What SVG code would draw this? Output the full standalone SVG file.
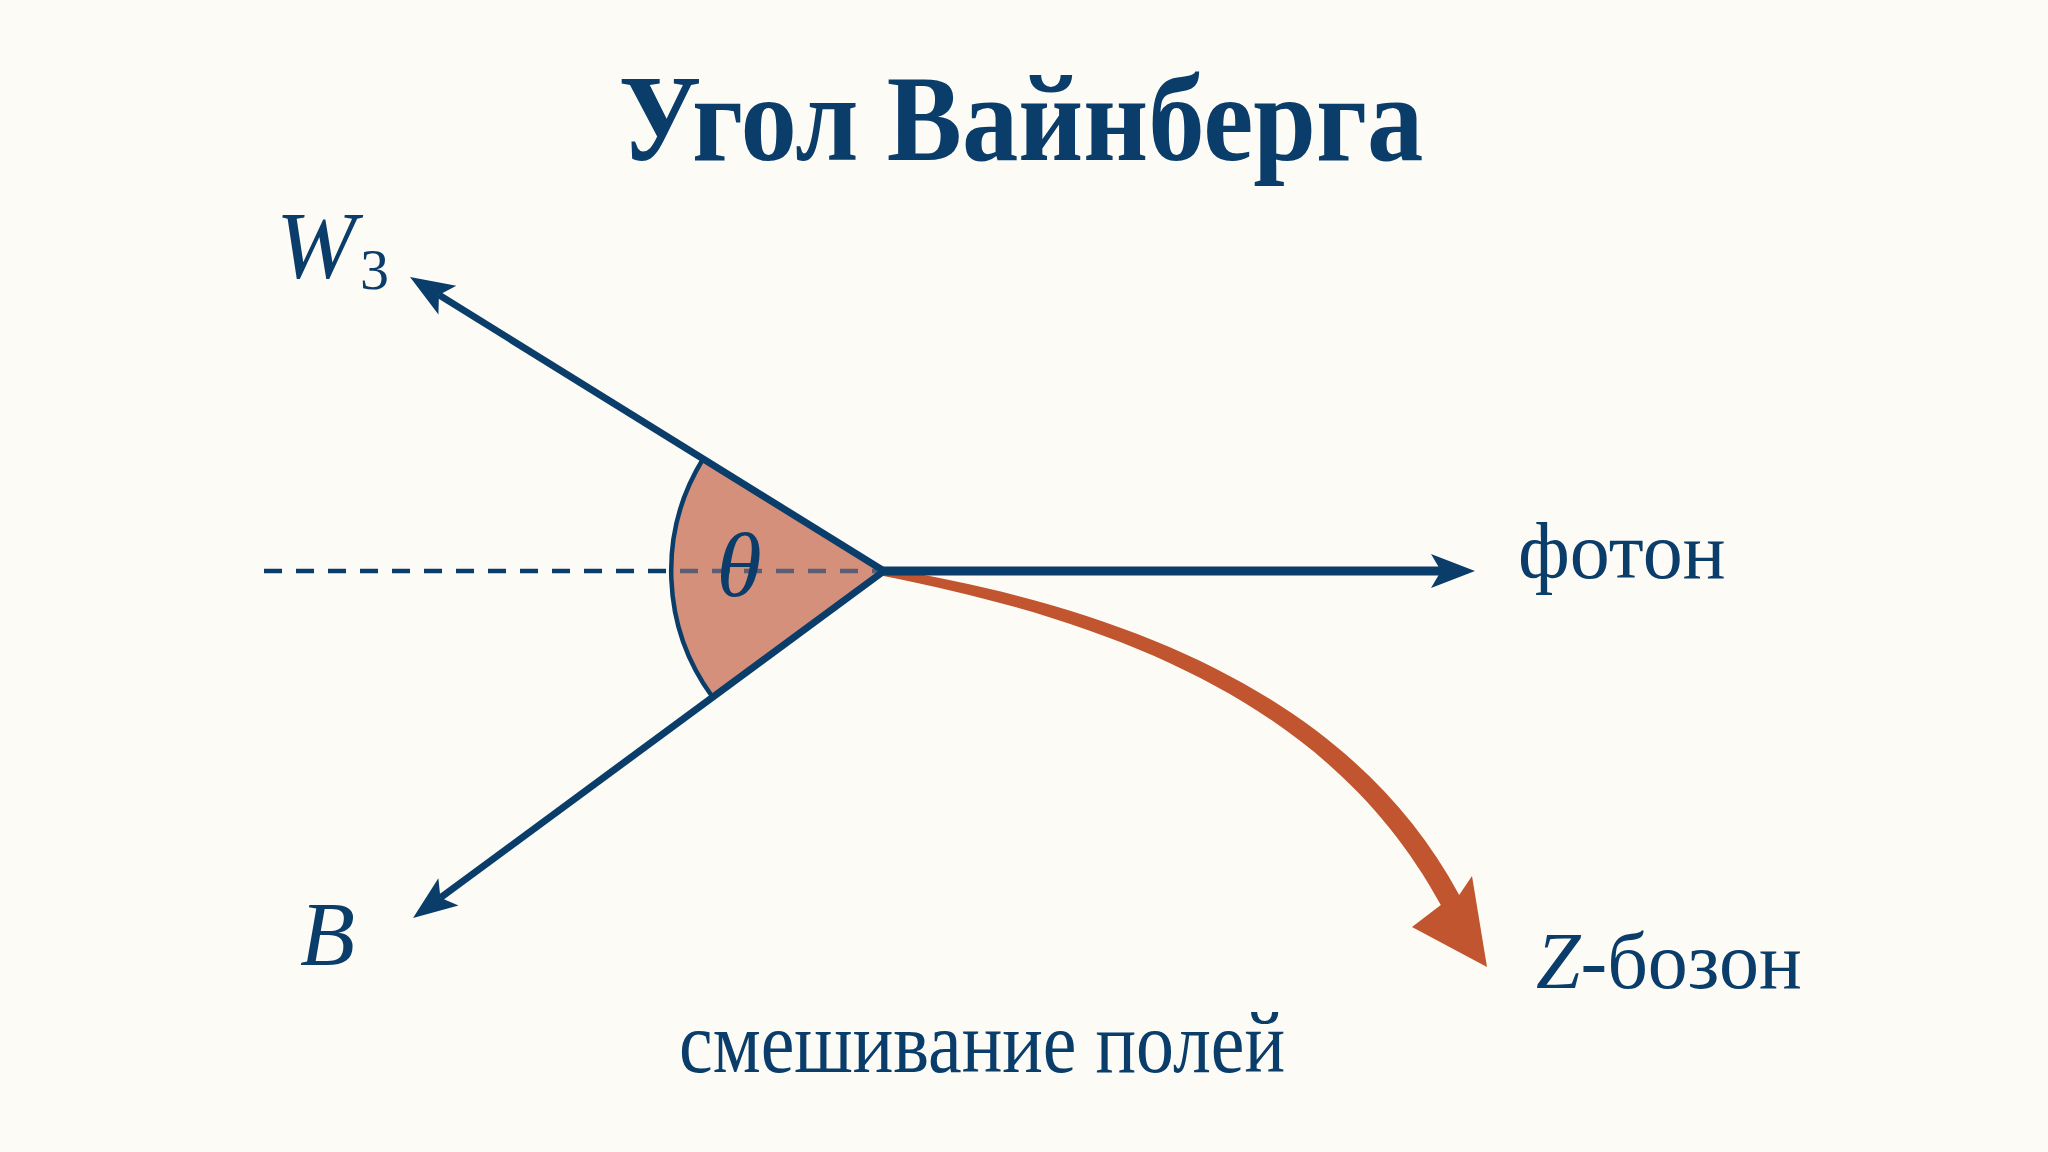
<svg xmlns="http://www.w3.org/2000/svg" width="2048" height="1152" viewBox="0 0 2048 1152">
<style>
.navy{fill:#0b3d6b}
.t{font-family:"Liberation Serif","Times New Roman",serif;fill:#0b3d6b}
.it{font-style:italic}
.ln{stroke:#0b3d6b;fill:none;stroke-linecap:butt}
</style>
<defs>
<marker id="ah" markerUnits="userSpaceOnUse" orient="auto" refX="0" refY="0" markerWidth="60" markerHeight="60" overflow="visible">
<path d="M34 0 L-10 -17 L0 0 L-10 17 Z" fill="#0b3d6b"/>
</marker>
</defs>
<rect width="2048" height="1152" fill="#fdfbf5"/>
<g id="title">
<text class="t" x="1021" y="160" font-size="122" font-weight="bold" text-anchor="middle" textLength="805" lengthAdjust="spacingAndGlyphs">Угол Вайнберга</text>
</g>
<g id="angle">
<path d="M884 571 L703 459 A213 213 0 0 0 712.5 697 Z" fill="#d4907a" stroke="#0b3d6b" stroke-width="4.5" stroke-linejoin="round"/>
</g>
<g id="connectors">
<line class="ln" x1="264" y1="571" x2="668" y2="571" stroke-width="4.5" stroke-dasharray="18 14"/>
<line class="ln" x1="680" y1="571" x2="884" y2="571" stroke-width="4.5" stroke-dasharray="18 14" stroke-opacity="0.6"/>
<path d="M884.7 568.1 C1151.4 612.1 1359.7 709.8 1459.2 895 L1472 876 L1487 967 L1412 927 L1440.8 905 C1340.3 720.2 1148.6 627.9 883.3 575.9 Z" fill="#c0552f"/>
<line class="ln" x1="884" y1="571" x2="438.9" y2="294.9" stroke-width="7" marker-end="url(#ah)"/>
<line class="ln" x1="884" y1="571" x2="440.4" y2="897.8" stroke-width="7" marker-end="url(#ah)"/>
<line class="ln" x1="880" y1="571" x2="1441" y2="571" stroke-width="9" marker-end="url(#ah)"/>
</g>
<g id="theta">
<text class="t it" x="739" y="596" font-size="92" text-anchor="middle">θ</text>
</g>
<g id="W3">
<text class="t it" x="276" y="278" font-size="96">W</text>
<text class="t" x="360" y="289" font-size="58">3</text>
</g>
<g id="B">
<text class="t it" x="300" y="965" font-size="90">B</text>
</g>
<g id="photon">
<text class="t" x="1518" y="578" font-size="80">фотон</text>
</g>
<g id="Z">
<text class="t" x="1536" y="988" font-size="80"><tspan class="it">Z</tspan>-бозон</text>
</g>
<g id="caption">
<text class="t" x="982" y="1072" font-size="86" text-anchor="middle" textLength="606" lengthAdjust="spacingAndGlyphs">смешивание полей</text>
</g>
</svg>
